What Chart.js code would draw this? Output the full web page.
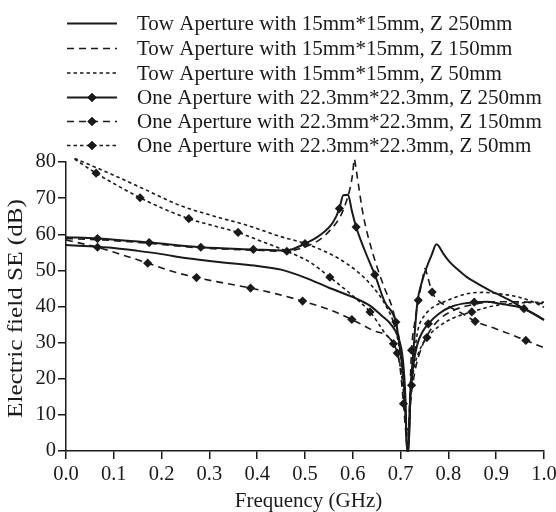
<!DOCTYPE html>
<html>
<head>
<meta charset="utf-8">
<script src="https://cdn.jsdelivr.net/npm/chart.js@4/dist/chart.umd.min.js"></script>
<style>
  html, body { margin: 0; padding: 0; background: #fff; }
  canvas { display: block; }
</style>
</head>
<body>
<canvas id="chart" width="556" height="512"></canvas>
<script>
// ---------- shielding effectiveness curves (frequency in GHz, SE in dB) ----------

// Two apertures 15mm*15mm, observation point Z = 250 mm
const towZ250Freq = [0, 0.05, 0.1, 0.15, 0.2, 0.25, 0.3, 0.35, 0.4, 0.45, 0.5, 0.55, 0.6, 0.635, 0.66, 0.68, 0.695, 0.705, 0.71, 0.7135, 0.7165, 0.72, 0.727, 0.735, 0.745, 0.755, 0.765, 0.775, 0.79, 0.803, 0.82, 0.838, 0.855, 0.873, 0.89, 0.908, 0.93, 0.958, 0.98, 1.0];
const towZ250SE   = [57, 56.7, 56.2, 55.4, 54.5, 53.4, 52.6, 51.9, 51.2, 50.2, 48, 45.2, 42.6, 40.3, 37.5, 35, 31.5, 25, 15, 0, 0, 15, 28, 41, 47, 51, 54.3, 57.2, 54.5, 52.3, 50.2, 48.2, 46.8, 45.4, 44.2, 43.1, 41.6, 39.4, 37.8, 36.3];

// Two apertures 15mm*15mm, Z = 150 mm
const towZ150Freq = [0, 0.066, 0.174, 0.282, 0.392, 0.46, 0.5, 0.531, 0.555, 0.573, 0.585, 0.594, 0.6, 0.603, 0.607, 0.611, 0.622, 0.643, 0.664, 0.685, 0.698, 0.706, 0.711, 0.7135, 0.7165, 0.72, 0.73, 0.745, 0.76, 0.78, 0.81, 0.85, 0.9, 0.95, 1.0];
const towZ150SE   = [58.8, 58.5, 57.5, 56.2, 55.6, 55.3, 56.5, 58.5, 61.5, 64.7, 68.5, 72.6, 77, 80.8, 78, 74.4, 65.2, 54.2, 45.9, 38.5, 30, 20, 9, 3, 3, 12, 22, 29, 33, 36.3, 38.9, 40.5, 41.3, 41.3, 40.8];

// Two apertures 15mm*15mm, Z = 50 mm
const towZ50Freq = [0.018, 0.05, 0.092, 0.162, 0.238, 0.31, 0.378, 0.448, 0.51, 0.587, 0.636, 0.671, 0.688, 0.7, 0.708, 0.7135, 0.7165, 0.722, 0.73, 0.737, 0.75, 0.77, 0.789, 0.838, 0.87, 0.908, 0.95, 0.978, 1.0];
const towZ50SE   = [81, 79.2, 76.8, 72.6, 68, 65, 62.5, 59.4, 57, 51.9, 46.3, 39.8, 34.3, 26, 15, 5, 5, 18, 28, 33.9, 37.5, 40, 41.2, 43.5, 43.9, 43.5, 42.5, 41.2, 39.8];

// One aperture 22.3mm*22.3mm, Z = 250 mm
const oneZ250Freq = [0, 0.066, 0.174, 0.282, 0.392, 0.46, 0.5, 0.531, 0.559, 0.572, 0.58, 0.59, 0.598, 0.607, 0.625, 0.646, 0.667, 0.69, 0.7, 0.707, 0.711, 0.7135, 0.7165, 0.72, 0.727, 0.735, 0.745, 0.758, 0.78, 0.803, 0.83, 0.854, 0.88, 0.908, 0.935, 0.958, 0.98, 1.0];
const oneZ250SE   = [59.2, 58.8, 57.7, 56.4, 55.8, 55.5, 57.4, 59.7, 63.4, 67.1, 70.8, 70.9, 66.5, 62, 55.5, 48.8, 41.2, 35.7, 27, 18, 8, 0, 0, 14, 24, 29.5, 32.8, 35.2, 38, 39.8, 40.8, 41.2, 41.3, 40.8, 40.2, 39.4, 37.9, 36.3];
const oneZ250MarkFreq = [0.066, 0.174, 0.282, 0.392, 0.5, 0.572, 0.607, 0.646, 0.69, 0.758, 0.854, 0.958];
const oneZ250MarkSE   = [58.8, 57.7, 56.4, 55.8, 57.4, 67.1, 62, 48.8, 35.7, 35.2, 41.2, 39.4];

// One aperture 22.3mm*22.3mm, Z = 150 mm
const oneZ150Freq = [0, 0.066, 0.12, 0.171, 0.22, 0.273, 0.33, 0.386, 0.44, 0.495, 0.55, 0.598, 0.64, 0.685, 0.698, 0.706, 0.711, 0.7135, 0.7165, 0.719, 0.723, 0.73, 0.737, 0.745, 0.751, 0.757, 0.766, 0.78, 0.8, 0.83, 0.856, 0.9, 0.93, 0.962, 1.0];
const oneZ150SE   = [58.4, 56.4, 54.2, 52, 49.8, 48, 46.5, 45.1, 43.5, 41.5, 39.2, 36.4, 33.5, 29.7, 24, 13.1, 5, 2, 4, 14, 27.9, 36, 41.7, 47, 50.5, 48, 44, 41.5, 40, 38, 35.9, 33.8, 32.3, 30.6, 28.6];
const oneZ150MarkFreq = [0.066, 0.171, 0.273, 0.386, 0.495, 0.598, 0.685, 0.706, 0.723, 0.737, 0.766, 0.856, 0.962];
const oneZ150MarkSE   = [56.4, 52, 48, 45.1, 41.5, 36.4, 29.7, 13.1, 27.9, 41.7, 44, 35.9, 30.6];

// One aperture 22.3mm*22.3mm, Z = 50 mm
const oneZ50Freq = [0.018, 0.063, 0.11, 0.155, 0.205, 0.257, 0.31, 0.36, 0.41, 0.462, 0.51, 0.552, 0.595, 0.636, 0.665, 0.693, 0.703, 0.709, 0.7135, 0.7165, 0.723, 0.73, 0.742, 0.755, 0.78, 0.81, 0.849, 0.9, 0.95, 1.0];
const oneZ50SE   = [80.8, 76.9, 73.3, 70.1, 67, 64.3, 62.3, 60.5, 58, 55.3, 52.3, 48.1, 43.5, 38.5, 33, 27.1, 20, 12, 6, 6, 18.2, 24, 28.5, 31.4, 34.5, 36.8, 38.5, 40.3, 41, 41.2];
const oneZ50MarkFreq = [0.063, 0.155, 0.257, 0.36, 0.462, 0.552, 0.636, 0.693, 0.723, 0.755, 0.849];
const oneZ50MarkSE   = [76.9, 70.1, 64.3, 60.5, 55.3, 48.1, 38.5, 27.1, 18.2, 31.4, 38.5];

// ---------- axes ----------
const freqTicks = [0, 0.1, 0.2, 0.3, 0.4, 0.5, 0.6, 0.7, 0.8, 0.9, 1.0];
const seTicks   = [0, 10, 20, 30, 40, 50, 60, 70, 80];
const xTitle = 'Frequency (GHz)';
const yTitle = 'Electric field SE (dB)';

const legendLabels = [
  'Tow Aperture with 15mm*15mm, Z 250mm',
  'Tow Aperture with 15mm*15mm, Z 150mm',
  'Tow Aperture with 15mm*15mm, Z 50mm',
  'One Aperture with 22.3mm*22.3mm, Z 250mm',
  'One Aperture with 22.3mm*22.3mm, Z 150mm',
  'One Aperture with 22.3mm*22.3mm, Z 50mm'
];

// ---------- styling ----------
const INK = '#1a1a1a';
const FONT = '"Liberation Serif", "Times New Roman", serif';
const DASH_SOLID = [];
const DASH_MID = [7, 5];
const DASH_SHORT = [3.5, 3];

const toPts = (fs, vs) => fs.map((f, i) => ({ x: f, y: vs[i] }));

function curve(freq, se, dash, width) {
  return {
    data: toPts(freq, se),
    showLine: true,
    borderColor: INK,
    borderWidth: width,
    borderDash: dash,
    pointRadius: 0,
    pointHoverRadius: 0,
    cubicInterpolationMode: 'monotone',
    fill: false,
    clip: false
  };
}
function markers(freq, se) {
  return {
    data: toPts(freq, se),
    showLine: false,
    pointStyle: 'rectRot',
    pointRadius: 4.6,
    pointBackgroundColor: INK,
    pointBorderColor: INK,
    pointBorderWidth: 0,
    clip: false
  };
}

const series = [
  { freq: towZ250Freq, se: towZ250SE, dash: DASH_SOLID, width: 2 },
  { freq: towZ150Freq, se: towZ150SE, dash: DASH_MID, width: 1.6 },
  { freq: towZ50Freq,  se: towZ50SE,  dash: DASH_SHORT, width: 1.6 },
  { freq: oneZ250Freq, se: oneZ250SE, dash: DASH_SOLID, width: 2, mf: oneZ250MarkFreq, ms: oneZ250MarkSE },
  { freq: oneZ150Freq, se: oneZ150SE, dash: DASH_MID, width: 1.6, mf: oneZ150MarkFreq, ms: oneZ150MarkSE },
  { freq: oneZ50Freq,  se: oneZ50SE,  dash: DASH_SHORT, width: 1.6, mf: oneZ50MarkFreq, ms: oneZ50MarkSE }
];

const datasets = [];
series.forEach(s => {
  datasets.push(curve(s.freq, s.se, s.dash, s.width));
  if (s.mf) datasets.push(markers(s.mf, s.ms));
});

// legend block above the plot: line sample + label per series
const legendPlugin = {
  id: 'seriesKey',
  afterDraw(chart) {
    const ctx = chart.ctx;
    const baselines = [30, 55, 79.5, 104, 128, 152];
    ctx.save();
    series.forEach((s, i) => {
      const yb = baselines[i];
      const yl = yb - 6.5;
      ctx.strokeStyle = INK;
      ctx.lineWidth = s.width;
      ctx.setLineDash(s.dash);
      ctx.beginPath();
      ctx.moveTo(67, yl);
      ctx.lineTo(117, yl);
      ctx.stroke();
      ctx.setLineDash([]);
      if (s.mf) {
        ctx.fillStyle = INK;
        Chart.helpers.drawPoint(ctx, { pointStyle: 'rectRot', radius: 4.6, borderWidth: 0 }, 92, yl);
        ctx.fill();
      }
      ctx.fillStyle = INK;
      ctx.font = '21px ' + FONT;
      ctx.textAlign = 'left';
      ctx.textBaseline = 'alphabetic';
      ctx.fillText(legendLabels[i], 137, yb);
    });
    ctx.restore();
  }
};

// axis titles
const titlePlugin = {
  id: 'axisTitles',
  afterDraw(chart) {
    const ctx = chart.ctx;
    ctx.save();
    ctx.fillStyle = INK;
    ctx.font = '21px ' + FONT;
    ctx.textAlign = 'center';
    ctx.textBaseline = 'alphabetic';
    ctx.fillText(xTitle, 308.5, 507);
    ctx.translate(16.5, 308.5);
    ctx.rotate(-Math.PI / 2);
    ctx.scale(1.2, 1);
    ctx.textBaseline = 'middle';
    ctx.fillText(yTitle, 0, 0);
    ctx.restore();
  }
};

new Chart(document.getElementById('chart'), {
  type: 'scatter',
  data: { datasets },
  options: {
    responsive: false,
    animation: false,
    events: [],
    layout: { padding: { top: 162, right: 12, left: 0, bottom: 0 } },
    plugins: { legend: { display: false }, tooltip: { enabled: false } },
    scales: {
      x: {
        type: 'linear',
        min: 0,
        max: 1.0,
        afterBuildTicks: s => { s.ticks = freqTicks.map(v => ({ value: v })); },
        afterFit: s => { s.height = 61; s.paddingLeft = 0; s.paddingRight = 0; },
        grid: { display: true, drawOnChartArea: false, tickLength: 8, color: INK, lineWidth: 1.5 },
        border: { display: true, color: INK, width: 1.5 },
        ticks: {
          autoSkip: false,
          maxRotation: 0,
          padding: 3,
          color: INK,
          font: { family: FONT, size: 20.5 },
          callback: v => Number(v).toFixed(1)
        }
      },
      y: {
        type: 'linear',
        min: 0,
        max: 80,
        afterBuildTicks: s => { s.ticks = seTicks.map(v => ({ value: v })); },
        afterFit: s => { s.width = 66; },
        grid: { display: true, drawOnChartArea: false, tickLength: 8, color: INK, lineWidth: 1.5 },
        border: { display: true, color: INK, width: 1.5 },
        ticks: {
          padding: 2,
          color: INK,
          font: { family: FONT, size: 20.5 },
          callback: v => String(v)
        }
      }
    }
  },
  plugins: [legendPlugin, titlePlugin]
});
</script>
</body>
</html>
